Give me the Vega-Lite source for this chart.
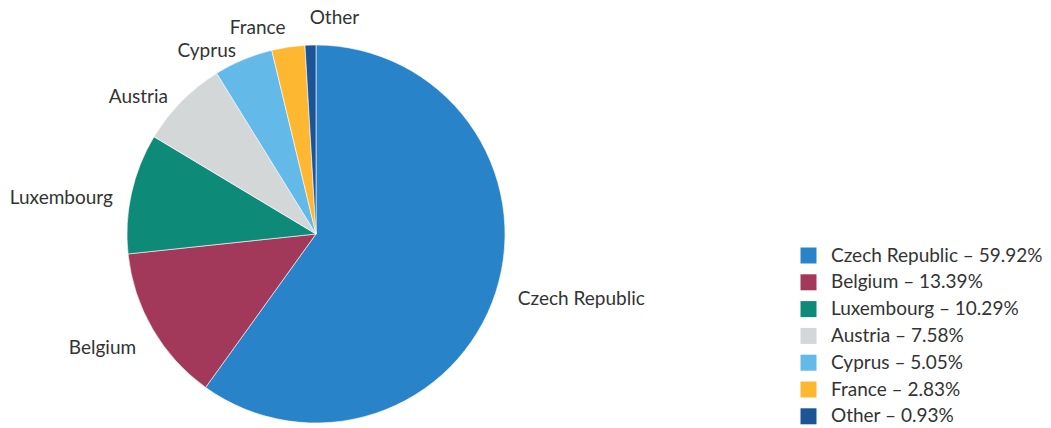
{
  "$schema": "https://vega.github.io/schema/vega-lite/v6.json",
  "autosize": {"type": "none"},
  "width": 622,
  "height": 378,
  "padding": {"left": 5, "top": 45, "right": 424, "bottom": 5},
  "background": "white",
  "config": {"view": {"stroke": null}, "font": "Lato"},
  "data": {
    "values": [
      {"country": "Czech Republic", "share": 59.92, "legend": "Czech Republic – 59.92%", "order": 1},
      {"country": "Belgium", "share": 13.39, "legend": "Belgium – 13.39%", "order": 2},
      {"country": "Luxembourg", "share": 10.29, "legend": "Luxembourg – 10.29%", "order": 3},
      {"country": "Austria", "share": 7.58, "legend": "Austria – 7.58%", "order": 4},
      {"country": "Cyprus", "share": 5.05, "legend": "Cyprus – 5.05%", "order": 5},
      {"country": "France", "share": 2.83, "legend": "France – 2.83%", "order": 6},
      {"country": "Other", "share": 0.93, "legend": "Other – 0.93%", "order": 7}
    ]
  },
  "encoding": {
    "theta": {"field": "share", "type": "quantitative", "stack": true},
    "order": {"field": "order", "type": "quantitative"}
  },
  "layer": [
    {
      "mark": {"type": "arc", "outerRadius": 189, "stroke": "white", "strokeWidth": 0.6},
      "encoding": {
        "color": {
          "field": "legend",
          "type": "nominal",
          "sort": ["Czech Republic – 59.92%", "Belgium – 13.39%", "Luxembourg – 10.29%", "Austria – 7.58%", "Cyprus – 5.05%", "France – 2.83%", "Other – 0.93%"],
          "scale": {
            "domain": ["Czech Republic – 59.92%", "Belgium – 13.39%", "Luxembourg – 10.29%", "Austria – 7.58%", "Cyprus – 5.05%", "France – 2.83%", "Other – 0.93%"],
            "range": ["#2983C8", "#A3395A", "#0E8A78", "#D4D7D7", "#63B9E8", "#FDB731", "#1B5497"]
          },
          "legend": {
            "title": null,
            "orient": "none",
            "legendX": 794,
            "legendY": 201,
            "symbolType": "square",
            "symbolSize": 256,
            "symbolStrokeWidth": 0,
            "labelFontSize": 19,
            "labelFont": "Lato",
            "labelColor": "#333333",
            "labelOffset": 13,
            "labelLimit": 300,
            "rowPadding": 6.8,
            "padding": 0
          }
        }
      }
    },
    {
      "mark": {"type": "text", "radius": 208, "align": "right", "baseline": "top", "fontSize": 19, "font": "Lato", "color": "#333333"},
      "encoding": {
        "text": {"condition": {"test": "indexof(['Belgium','Luxembourg','Austria','Cyprus'], datum.country) >= 0", "field": "country"}, "value": ""}
      }
    },
    {
      "mark": {"type": "text", "radius": 208, "align": "right", "baseline": "middle", "fontSize": 19, "font": "Lato", "color": "#333333"},
      "encoding": {
        "text": {"condition": {"test": "datum.country === 'France'", "field": "country"}, "value": ""}
      }
    },
    {
      "mark": {"type": "text", "radius": 212, "align": "left", "baseline": "middle", "fontSize": 19, "font": "Lato", "color": "#333333"},
      "encoding": {
        "text": {"condition": {"test": "datum.country === 'Czech Republic'", "field": "country"}, "value": ""}
      }
    },
    {
      "mark": {"type": "text", "radius": 216, "align": "left", "baseline": "middle", "fontSize": 19, "font": "Lato", "color": "#333333"},
      "encoding": {
        "text": {"condition": {"test": "datum.country === 'Other'", "field": "country"}, "value": ""}
      }
    }
  ]
}
